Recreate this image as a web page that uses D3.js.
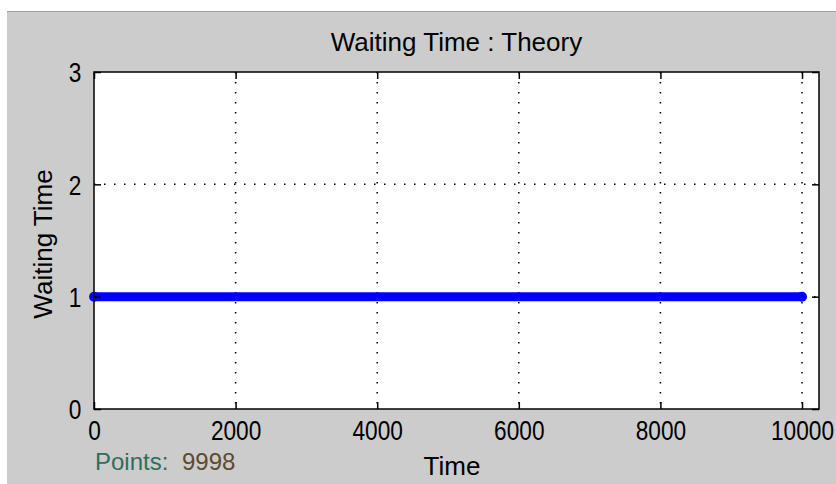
<!DOCTYPE html>
<html>
<head>
<meta charset="utf-8">
<script src="https://cdn.jsdelivr.net/npm/d3@7"></script>
<style>
  body { margin: 0; background: #fff; }
  text { font-family: "Liberation Sans", Arial, sans-serif; fill: #000; }
</style>
</head>
<body>
<div id="chart"></div>
<script>
// chart data
var times = [1, 10000];
var waitTimes = [1, 1];
var xTicks = [0, 2000, 4000, 6000, 8000, 10000];
var yTicks = [0, 1, 2, 3];
var pointCount = 9998;

var svgWidth = 836;
var svgHeight = 484;

var margin = { top: 72, right: 17, bottom: 75, left: 94 };
var width = svgWidth - margin.left - margin.right;
var height = svgHeight - margin.top - margin.bottom;

var svg = d3.select("#chart")
  .append("svg")
  .attr("width", svgWidth)
  .attr("height", svgHeight);

// figure background
svg.append("rect")
  .attr("x", 7).attr("y", 11)
  .attr("width", svgWidth - 7).attr("height", svgHeight - 11)
  .attr("fill", "#cccccc");
svg.append("line")
  .attr("x1", 7).attr("x2", svgWidth)
  .attr("y1", 11.5).attr("y2", 11.5)
  .attr("stroke", "#a0a0a0");

var chartGroup = svg.append("g")
  .attr("transform", `translate(${margin.left}, ${margin.top})`);

var xScale = d3.scaleLinear().domain([0, 10240]).range([0, width]);
var yScale = d3.scaleLinear().domain([0, 3]).range([height, 0]);

chartGroup.append("rect")
  .attr("width", width).attr("height", height)
  .attr("fill", "#fff");

// dotted grid
chartGroup.selectAll(".vgrid")
  .data(xTicks.filter(d => d > 0))
  .enter().append("line")
  .attr("x1", d => xScale(d)).attr("x2", d => xScale(d))
  .attr("y1", 0).attr("y2", height)
  .attr("stroke", "#000").attr("stroke-width", 1.5)
  .attr("stroke-dasharray", "1.5 8.5");

chartGroup.selectAll(".hgrid")
  .data(yTicks.filter(d => d > 0 && d < 3))
  .enter().append("line")
  .attr("x1", 0).attr("x2", width)
  .attr("y1", d => yScale(d)).attr("y2", d => yScale(d))
  .attr("stroke", "#000").attr("stroke-width", 1.5)
  .attr("stroke-dasharray", "1.5 8.5");

// data line
var pts = times.map((t, i) => [t, waitTimes[i]]);
chartGroup.append("path")
  .datum(pts)
  .attr("fill", "none")
  .attr("stroke", "#0000ff")
  .attr("stroke-width", 9)
  .attr("d", d3.line().x(d => xScale(d[0])).y(d => yScale(d[1])));

chartGroup.selectAll(".dot")
  .data(pts)
  .enter().append("circle")
  .attr("cx", d => xScale(d[0]))
  .attr("cy", d => yScale(d[1]))
  .attr("r", 5)
  .attr("fill", "#0000ff");

// axes (ticks inward, on all four sides)
var tickLen = 7;
var bottomAxis = d3.axisBottom(xScale).tickValues(xTicks).tickSize(-tickLen).tickPadding(12).tickFormat(d3.format("d"));
var topAxis = d3.axisTop(xScale).tickValues(xTicks).tickSize(-tickLen).tickFormat("");
var leftAxis = d3.axisLeft(yScale).tickValues(yTicks).tickSize(-tickLen).tickPadding(15).tickFormat(d3.format("d"));
var rightAxis = d3.axisRight(yScale).tickValues(yTicks).tickSize(-tickLen).tickFormat("");

var gb = chartGroup.append("g").attr("transform", `translate(0, ${height})`).call(bottomAxis);
var gt = chartGroup.append("g").call(topAxis);
var gl = chartGroup.append("g").call(leftAxis);
var gr = chartGroup.append("g").attr("transform", `translate(${width}, 0)`).call(rightAxis);

[gb, gt, gl, gr].forEach(function(g) {
  g.select(".domain").remove();
  g.selectAll("line").attr("stroke", "#000").attr("stroke-width", 1.5);
  // the original font is narrow, so squeeze the tick labels sideways
  g.selectAll("text")
    .style("font-family", "'Liberation Sans', Arial, sans-serif")
    .style("font-size", "27px")
    .attr("fill", "#000")
    .attr("transform", "scale(0.84, 1)");
});
gb.selectAll("text").attr("dy", "0.71em");
gl.selectAll("text").attr("dy", "0.36em");

// box
chartGroup.append("rect")
  .attr("width", width).attr("height", height)
  .attr("fill", "none")
  .attr("stroke", "#000")
  .attr("stroke-width", 1.5);

// labels
svg.append("text")
  .attr("x", margin.left + width / 2)
  .attr("y", 51)
  .attr("text-anchor", "middle")
  .style("font-size", "26px")
  .text("Waiting Time : Theory");

svg.append("text")
  .attr("x", 452)
  .attr("y", 475)
  .attr("text-anchor", "middle")
  .style("font-size", "26px")
  .text("Time");

svg.append("text")
  .attr("transform", "translate(52, 244) rotate(-90)")
  .attr("text-anchor", "middle")
  .style("font-size", "26px")
  .text("Waiting Time");

svg.append("text")
  .attr("x", 95)
  .attr("y", 470)
  .style("font-size", "24px")
  .style("fill", "#2e6e5c")
  .text("Points:");

svg.append("text")
  .attr("x", 182)
  .attr("y", 470)
  .style("font-size", "24px")
  .style("fill", "#5e4a2e")
  .text(pointCount);
</script>
</body>
</html>
